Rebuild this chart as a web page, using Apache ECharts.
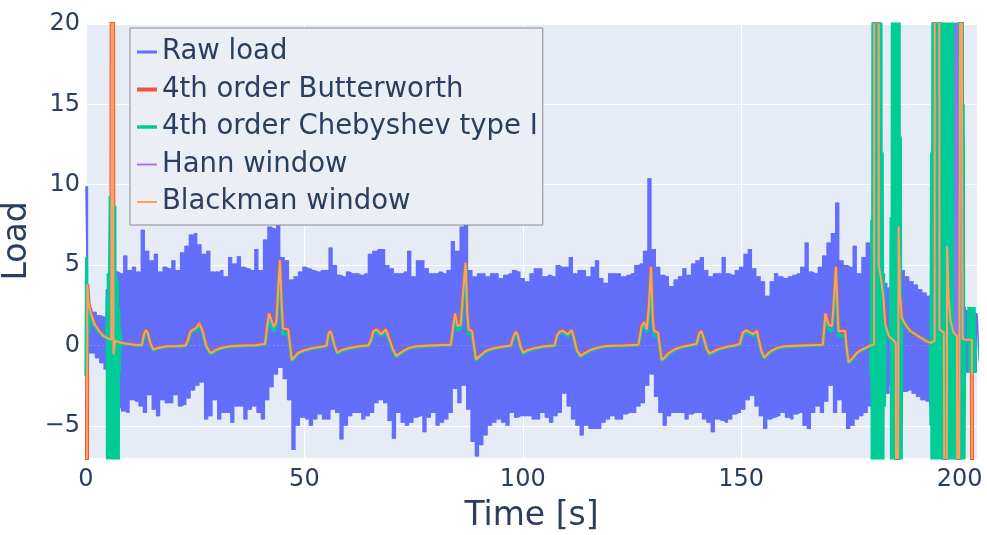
<!DOCTYPE html>
<html>
<head>
<meta charset="utf-8">
<script src="https://cdn.jsdelivr.net/npm/echarts@6/dist/echarts.min.js"></script>
<style>
html,body{margin:0;padding:0;background:#fff;}
#chart{width:987px;height:535px;}
</style>
</head>
<body>
<div id="chart"></div>
<script>
// ---- Raw load: upper envelope samples at t = i, lower envelope samples at t = i + 0.5 (s)
const rawUpper = [9.9,2.3,2.1,1.9,1.8,3.5,4.0,4.6,4.5,5.6,4.7,4.9,4.6,7.2,5.9,5.3,5.7,4.6,4.9,4.8,
5.3,4.7,5.8,6.2,6.9,7.0,6.3,5.7,5.9,4.6,4.6,4.7,4.3,5.5,5.1,5.55,4.9,4.8,4.7,6.0,
4.7,6.6,7.4,7.3,7.8,5.5,5.3,4.1,4.3,4.6,4.9,4.8,4.7,4.6,4.7,4.7,6.1,5.0,4.4,4.3,
4.6,4.5,4.5,4.4,4.5,5.7,5.9,6.0,6.0,5.0,4.8,4.5,4.5,4.6,5.9,4.3,5.3,5.3,4.8,4.5,
4.5,4.6,4.5,4.7,6.5,5.9,7.4,10.4,4.7,4.3,4.5,4.5,4.3,4.5,4.5,4.2,4.4,4.5,4.7,4.6,
4.2,4.0,4.5,4.8,4.8,4.3,4.4,4.3,5.0,4.9,4.9,5.5,4.5,4.7,4.7,4.3,4.9,5.3,4.2,3.9,
4.5,4.5,4.5,4.3,4.4,4.5,5.0,5.1,5.9,10.4,6.0,4.9,4.4,4.3,3.7,4.1,4.3,4.8,4.4,5.1,
5.3,5.5,4.7,4.3,4.5,4.5,5.5,4.5,4.4,4.7,4.9,5.7,6.0,4.8,4.3,4.0,3.1,4.0,4.5,4.3,
4.2,4.3,4.4,4.5,4.9,6.4,4.6,4.5,4.9,5.6,6.4,7.0,8.9,5.3,5.0,4.9,6.2,4.5,5.5,6.4,
5.0,5.5,5.0,3.9,3.6,4.5,4.9,4.7,4.3,4.0,3.8,3.5,3.3,3.1,3.5,3.5,3.0,3.0,3.0,3.0,
2.5,2.4,2.2,2.4,2.0];
const rawLower = [-0.5,-0.5,-0.8,-1.1,-1.5,-2.5,-3.0,-3.9,-4.1,-4.2,-3.4,-3.5,-3.8,-4.2,-3.1,-4.0,-4.4,-3.4,-3.6,-3.6,
-3.1,-3.8,-3.7,-3.3,-2.8,-2.5,-2.3,-4.6,-4.4,-3.4,-4.6,-4.2,-4.2,-4.8,-3.8,-3.8,-4.6,-4.0,-3.8,-4.2,
-4.6,-3.4,-2.6,-1.8,-1.4,-2.1,-3.4,-6.5,-5.0,-4.5,-4.6,-5.0,-4.6,-4.3,-4.6,-4.6,-4.0,-4.2,-5.85,-5.0,
-4.4,-4.2,-4.2,-4.6,-4.4,-4.2,-3.6,-3.4,-3.6,-4.7,-5.8,-4.2,-4.8,-5.0,-4.8,-4.5,-4.4,-5.4,-4.5,-4.2,
-5.0,-4.8,-4.6,-4.2,-2.7,-3.6,-2.5,-4.0,-6.0,-6.9,-6.2,-5.6,-5.0,-4.8,-4.6,-4.8,-5.0,-4.2,-4.5,-4.4,
-4.4,-4.4,-4.6,-4.6,-4.2,-4.5,-4.8,-4.4,-4.2,-3.0,-3.8,-4.6,-5.0,-5.6,-5.0,-5.2,-5.2,-5.2,-4.8,-4.6,
-4.4,-4.6,-4.6,-4.3,-4.2,-4.2,-3.8,-3.6,-2.5,-1.8,-3.2,-4.2,-5.0,-4.4,-4.2,-4.2,-4.2,-4.6,-4.3,-4.2,
-4.2,-4.6,-4.8,-5.4,-4.6,-4.7,-4.8,-4.6,-4.3,-4.2,-4.0,-3.4,-3.15,-3.8,-4.4,-5.2,-4.6,-4.5,-4.4,-4.2,
-4.5,-4.6,-4.3,-4.2,-5.0,-5.2,-4.2,-3.8,-4.2,-3.5,-2.5,-4.2,-3.4,-4.2,-5.2,-5.0,-4.6,-4.4,-4.2,-3.8,
-4.0,-4.0,-3.5,-3.0,-2.5,-2.2,-2.1,-2.9,-2.8,-3.0,-3.2,-3.4,-3.5,-3.8,-3.2,-3.0,-2.8,-2.6,-2.4,-2.2,
-2.0,-1.7,-1.5,-1.7,-1.0];
const rawStep = 1;

// ---- Filtered signals [time, load]
const butterStart = [[0,-40],[0.3,3.8],[0.6,2.6],[1.1,2.0],[2,1.3],[3,0.9],[4,0.6],[5,0.45],[5.8,0.35],[6.0,60],[6.3,-0.55],[6.7,0.3]];
const filtMid = [[7.5,0.2],[9,0.12],[11,0.05],[12.8,0.02],[13.3,0.7],[13.7,0.95],[14.1,0.8],[14.8,0.1],[15.4,-0.25],[16.5,-0.15],[18.5,-0.05],[21,-0.03],[22.8,0.0],[23.3,0.3],[23.9,0.85],[24.6,1.0],[25.3,1.1],[25.9,1.4],[26.3,1.5],[26.7,0.9],[27.5,0.0],[28.3,-0.4],[28.8,-0.45],[29.6,-0.3],[31,-0.15],[33,-0.05],[36,0.0],[39,0.02],[41.0,0.1],[41.5,1.2],[41.9,2.0],[42.4,1.6],[43.0,1.15],[43.6,1.5],[44.0,3.5],[44.4,5.3],[44.8,2.5],[45.1,1.05],[46.3,1.0],[46.6,0.3],[47.1,-0.9],[47.8,-0.7],[48.6,-0.45],[50,-0.3],[52,-0.15],[54.5,-0.05],
[55.1,0.0],[55.5,0.7],[55.8,0.9],[56.2,0.75],[56.9,0.0],[57.5,-0.45],[58.5,-0.3],[60.4,-0.15],[62.5,-0.05],[64.6,0.0],[65.2,0.3],[65.8,0.9],[66.5,1.0],[67.6,0.7],[68.6,1.0],[69.2,0.6],[70.2,-0.2],[71.0,-0.65],[72.6,-0.35],[74,-0.15],[75.7,-0.05],[79,0.0],[83.5,0.05],[84.0,1.0],[84.5,2.0],[85.1,1.2],[85.8,1.3],[86.4,3.5],[86.9,5.15],[87.3,2.0],[87.6,1.0],[88.4,0.9],[88.7,0.2],[89.3,-0.87],[90.2,-0.65],[91.5,-0.35],[93,-0.2],[95,-0.1],[97.3,0.0],
[97.8,0.5],[98.4,0.85],[98.9,0.6],[99.5,-0.1],[100.1,-0.45],[101,-0.3],[103,-0.15],[105,-0.05],[107.3,0.0],[107.8,0.6],[108.4,0.85],[109.2,0.9],[110.3,0.7],[111.2,0.95],[111.6,0.6],[112.4,-0.3],[113.2,-0.66],[114,-0.5],[115.3,-0.3],[117,-0.15],[119,-0.03],[123,0.0],[126.5,0.05],[127.2,1.2],[127.8,1.45],[128.4,1.0],[128.9,2.5],[129.35,4.9],[129.8,1.5],[130.1,0.9],[131.0,0.8],[131.3,0.1],[131.8,-0.9],[132.5,-0.75],[133.3,-0.5],[134.7,-0.25],[136.5,-0.08],[138,0.0],
[139.8,0.1],[140.4,0.75],[140.9,0.9],[141.4,0.5],[142.1,-0.2],[142.7,-0.5],[143.5,-0.4],[144.6,-0.25],[146.5,-0.1],[148.5,0.0],[149.7,0.1],[150.4,0.8],[151.1,0.95],[152.7,0.7],[153.6,0.9],[154.0,0.4],[154.6,-0.3],[155.3,-0.75],[156.0,-0.55],[156.8,-0.35],[158.3,-0.15],[160,-0.05],[164,0.0],[168.7,0.05],[169.3,2.0],[170.0,1.3],[170.8,1.2],[171.3,3.0],[171.7,4.9],[172.1,2.0],[172.3,0.9],[173.8,0.9],[174.1,0.0],[174.6,-1.05],[175.5,-0.8],[176.5,-0.45],[177.7,-0.25],[178.8,-0.12],[179.6,0.0]];
const blackEnd = [[180.45,0.05],[180.5,45],[181.45,45],[181.5,5.0],[182.1,4.0],[182.6,2.9],[183.0,1.3],[183.8,0.6],[184.9,0.3],[185.4,0.15],[185.7,-40],[186.05,7.4],[186.4,3.0],[186.8,1.7],[187.6,1.3],[188.7,0.9],[189.9,0.7],[191,0.5],[192.2,0.3],[193.4,0.15],[194.3,0.3],[194.35,45],[195.35,45],[195.4,1.0],[196.4,0.8],[196.9,-40],[197.15,6.2],[197.5,3.0],[197.9,1.6],[198.6,0.8],[199.4,0.6],[199.75,-40],[200.0,3.7],[200.3,45],[200.7,0.4],[201.5,0.35],[202.8,0.35],[203.2,-40]];
const hannEnd = [[180.45,0.05],[180.5,45],[181.45,45],[181.5,5.0],[182.1,4.0],[182.6,2.9],[183.0,1.3],[183.8,0.6],[184.9,0.3],[185.4,0.15],[185.7,-40],[186.05,7.4],[186.4,3.0],[186.8,1.7],[187.6,1.3],[188.7,0.9],[189.9,0.7],[191,0.5],[192.2,0.3],[193.4,0.15],[194.3,0.3],[194.35,45],[195.35,45],[195.4,1.0],[196.4,0.8],[196.9,-40],[197.15,6.2],[197.5,3.0],[197.9,1.6],[198.6,0.8],[199.0,0.6],[199.35,45],[199.7,-40],[200.0,3.7],[200.3,45],[200.7,0.4],[201.5,0.35],[202.8,0.35],[203.2,-40]];
const chebStart = [[0,-1.9],[0.12,5.5],[0.25,-1.5],[0.4,3.5],[0.6,0.8],[0.8,2.2],[1.2,1.6],[2,1.2],[3,0.8],[4,0.55],[4.7,0.5],[4.85,3.0],[4.95,-12],[5.1,4.5],[5.25,-30],[5.4,4.7],[5.55,9.3],[5.7,-30],[5.85,4.6],[6.0,-30],[6.15,4.7],[6.3,-30],[6.45,4.5],[6.6,8.7],[6.75,-30],[6.9,4.4],[7.05,-25],[7.2,4.0],[7.35,-12],[7.5,2.3],[7.65,-1.7],[7.8,1.0],[8.0,0.1]];
const chebMid = [[9,0.1],[11,0.03],[12.8,0.0],[13.3,0.6],[13.7,0.9],[14.1,0.75],[14.8,0.05],[15.4,-0.3],[16.5,-0.18],[18.5,-0.08],[21,-0.05],[22.8,-0.02],[23.3,0.2],[23.9,0.75],[24.6,0.9],[25.3,1.0],[25.9,1.3],[26.3,1.4],[26.7,0.8],[27.5,-0.1],[28.3,-0.45],[28.8,-0.5],[29.6,-0.35],[31,-0.18],[33,-0.07],[36,-0.02],[39,0.0],[41.0,0.05],[41.5,1.0],[41.9,1.8],[42.4,1.3],[43.0,0.85],[43.6,1.3],[44.0,3.2],[44.4,5.1],[44.8,2.2],[45.1,0.7],[46.3,0.75],[46.6,0.2],[47.1,-0.95],[47.8,-0.75],[48.6,-0.5],[50,-0.35],[52,-0.18],[54.5,-0.07],
[55.1,-0.02],[55.5,0.6],[55.8,0.85],[56.2,0.7],[56.9,-0.05],[57.5,-0.5],[58.5,-0.35],[60.4,-0.18],[62.5,-0.07],[64.6,-0.02],[65.2,0.2],[65.8,0.8],[66.5,0.9],[67.6,0.6],[68.6,0.9],[69.2,0.5],[70.2,-0.25],[71.0,-0.7],[72.6,-0.4],[74,-0.18],[75.7,-0.07],[79,-0.02],[83.5,0.03],[84.0,0.8],[84.5,1.8],[85.1,0.9],[85.8,1.1],[86.4,3.2],[86.9,5.0],[87.3,1.7],[87.6,0.7],[88.4,0.7],[88.7,0.1],[89.3,-0.92],[90.2,-0.7],[91.5,-0.4],[93,-0.22],[95,-0.12],[97.3,-0.02],
[97.8,0.4],[98.4,0.8],[98.9,0.55],[99.5,-0.15],[100.1,-0.5],[101,-0.35],[103,-0.18],[105,-0.07],[107.3,-0.02],[107.8,0.5],[108.4,0.75],[109.2,0.8],[110.3,0.6],[111.2,0.85],[111.6,0.5],[112.4,-0.35],[113.2,-0.7],[114,-0.55],[115.3,-0.35],[117,-0.18],[119,-0.05],[123,-0.02],[126.5,0.03],[127.2,1.0],[127.8,1.3],[128.4,0.8],[128.9,2.2],[129.35,4.7],[129.8,1.2],[130.1,0.6],[131.0,0.6],[131.3,0.0],[131.8,-0.95],[132.5,-0.8],[133.3,-0.55],[134.7,-0.3],[136.5,-0.1],[138,-0.02],
[139.8,0.05],[140.4,0.65],[140.9,0.85],[141.4,0.45],[142.1,-0.25],[142.7,-0.55],[143.5,-0.45],[144.6,-0.3],[146.5,-0.12],[148.5,-0.02],[149.7,0.05],[150.4,0.7],[151.1,0.85],[152.7,0.6],[153.6,0.8],[154.0,0.3],[154.6,-0.35],[155.3,-0.8],[156.0,-0.6],[156.8,-0.4],[158.3,-0.18],[160,-0.07],[164,-0.02],[168.7,0.03],[169.3,1.8],[170.0,1.0],[170.8,0.9],[171.3,2.7],[171.7,4.7],[172.1,1.7],[172.3,0.6],[173.8,0.6],[174.1,-0.1],[174.6,-1.1],[175.5,-0.85],[176.5,-0.5],[177.7,-0.28],[178.8,-0.14],[179.6,0.0]];
const chebEnd = [[179.75,-2],[179.9,7.8],[180.05,-14],[180.2,30],[180.35,-30],[180.5,30],[180.65,-30],[180.8,30],[180.95,-30],[181.1,30],[181.25,-30],[181.4,30],[181.55,-30],[181.7,30],[181.85,-30],[182.0,25],[182.15,-20],[182.3,12],[182.45,-8],[182.6,4.5],[182.8,-3.8],[183.0,1.3],[183.8,0.6],[184.2,0.3],
[184.35,8],[184.5,-20],[184.65,30],[184.8,-30],[184.95,30],[185.1,-30],[185.25,30],[185.4,-30],[185.55,30],[185.7,-30],[185.85,30],[186.0,-30],[186.15,30],[186.3,-25],[186.45,13],[186.6,-10],[186.8,1.7],[187.6,1.3],[188.7,0.9],[189.9,0.7],[191,0.5],[192.2,0.3],[193.3,0.15],
[193.45,-5],[193.6,12],[193.75,-30],[193.9,30],[194.05,-30],[194.2,30],[194.35,-30],[194.5,30],[194.65,-30],[194.8,30],[194.95,-30],[195.1,30],[195.25,-30],[195.4,30],[195.55,-30],[195.7,30],[195.85,-30],[196.0,30],[196.15,-30],[196.3,30],[196.45,-30],[196.6,30],[196.75,-30],[196.9,30],[197.05,-30],[197.2,30],[197.35,-30],[197.5,25],[197.65,-20],[197.85,1.6],
[198.0,-30],[198.15,30],[198.3,-30],[198.45,30],[198.6,-30],[198.75,30],[198.9,-30],[199.05,30],[199.2,-30],[199.35,30],[199.5,-30],[199.65,30],[199.8,-30],[199.95,30],[200.1,-30],[200.25,30],[200.4,-30],[200.55,30],[200.7,-25],[200.85,15],[201.0,-8],[201.2,0.3],[202.0,0.35],
[202.15,2.4],[202.3,-1.7],[202.45,2.4],[202.6,-1.7],[202.75,2.4],[202.9,-1.7],[203.05,2.4],[203.2,-1.7],[203.35,2.4],[203.5,-1.7],[203.7,0.3]];

const seriesNames = ['Raw load','4th order Butterworth','4th order Chebyshev type I','Hann window','Blackman window'];
const seriesColors = ['#636efa','#EF553B','#00cc96','#ab63fa','#FFA15A'];
const legendWidths = [3, 4, 3.5, 1.8, 2];
const xTicks = [0,50,100,150,200];
const yTicks = [-5,0,5,10,15,20];

const rawData = [], rawTop = [], rawBottom = [];
for (let i = 0; i < rawUpper.length; i++) {
  rawData.push([i * rawStep, rawUpper[i]]);
  rawData.push([i * rawStep + rawStep / 2, rawLower[i]]);
  rawTop.push([i * rawStep, rawUpper[i]]);
  rawBottom.push([i * rawStep + rawStep / 2, rawLower[i]]);
}
const butterData = butterStart.concat(filtMid, blackEnd);
const chebData = chebStart.concat(chebMid, chebEnd);
const hannData = butterStart.concat(filtMid, hannEnd);
const blackData = butterStart.concat(filtMid, blackEnd);

const FONT = 'DejaVu Sans';
const TXT = '#2a3f5f';
const chart = echarts.init(document.getElementById('chart'), null, {renderer: 'canvas'});
function mk(name, data, color, width) {
  return {name: name, type: 'line', data: data, showSymbol: false, symbol: 'none',
    lineStyle: {color: color, width: width}, itemStyle: {color: color},
    animation: false, silent: true, clip: true, z: 2};
}
function band(name, data, color) {
  return {name: name, type: 'line', data: data, showSymbol: false, symbol: 'none', step: 'middle',
    lineStyle: {width: 0, opacity: 0}, itemStyle: {color: color},
    areaStyle: {color: color, opacity: 1, origin: 0},
    animation: false, silent: true, clip: true, z: 2};
}
chart.setOption({
  backgroundColor: '#ffffff',
  animation: false,
  grid: {left: 86, right: 10, top: 24, bottom: 77, show: true, backgroundColor: '#E5ECF6', borderWidth: 0,
    containLabel: false, outerBoundsMode: 'none'},
  legend: {
    orient: 'vertical', left: 130, top: 28,
    padding: [9, 5, 8, 5], itemGap: 7.5, itemWidth: 20, itemHeight: 14,
    backgroundColor: '#ebeff5', borderColor: '#8a8a8a', borderWidth: 1,
    itemStyle: {opacity: 0, color: 'transparent', borderWidth: 0},
    textStyle: {fontFamily: FONT, fontSize: 27.5, color: TXT, lineHeight: 30},
    data: seriesNames.map(function (n, i) { return {name: n, lineStyle: {width: legendWidths[i]}}; })
  },
  xAxis: {
    type: 'value', min: 0, max: 204, splitNumber: 5,
    name: 'Time [s]', nameLocation: 'middle', nameGap: 42,
    nameTextStyle: {fontFamily: FONT, fontSize: 33, color: TXT},
    axisLine: {show: false}, axisTick: {show: false},
    axisLabel: {fontFamily: FONT, fontSize: 24, color: TXT, margin: 10,
      formatter: function (v) { return xTicks.indexOf(v) >= 0 ? String(v) : ''; }},
    splitLine: {show: true, lineStyle: {color: '#ffffff', width: 1}}
  },
  yAxis: {
    type: 'value', min: -7, max: 20, splitNumber: 5,
    name: 'Load', nameLocation: 'middle', nameGap: 40, nameRotate: 90,
    nameTextStyle: {fontFamily: FONT, fontSize: 33, color: TXT},
    axisLine: {show: false}, axisTick: {show: false},
    axisLabel: {fontFamily: FONT, fontSize: 24, color: TXT, margin: 6,
      formatter: function (v) { return yTicks.indexOf(v) >= 0 ? (v < 0 ? '\u2212' + Math.abs(v) : String(v)) : ''; }},
    splitLine: {show: true, lineStyle: {color: '#ffffff', width: 1}}
  },
  series: [
    band('rawTopBand', rawTop, seriesColors[0]),
    band('rawBottomBand', rawBottom, seriesColors[0]),
    mk(seriesNames[0], rawData, seriesColors[0], 1.6),
    mk(seriesNames[1], butterData, seriesColors[1], 4),
    mk(seriesNames[2], chebData, seriesColors[2], 3.2),
    mk(seriesNames[3], hannData, seriesColors[3], 1.7),
    mk(seriesNames[4], blackData, seriesColors[4], 2)
  ]
});
</script>
</body>
</html>
